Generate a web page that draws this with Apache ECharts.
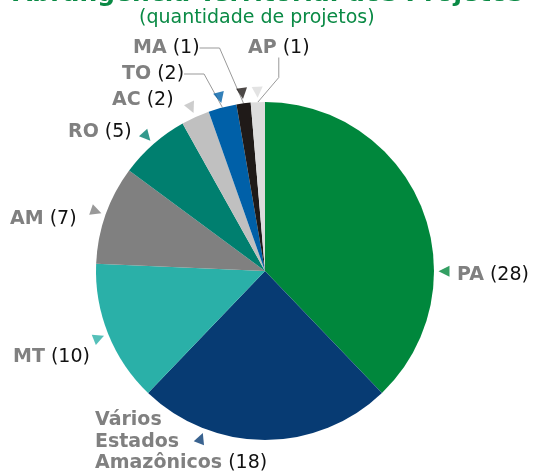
<!DOCTYPE html>
<html>
<head>
<meta charset="utf-8">
<script src="https://cdn.jsdelivr.net/npm/echarts@6/dist/echarts.min.js"></script>
<style>
  html, body { margin: 0; padding: 0; background: #fff; }
  #chart { width: 536px; height: 473px; }
</style>
</head>
<body>
<div id="chart"></div>
<script>
'use strict';

// data
var categories = ['PA', 'Vários Estados Amazônicos', 'MT', 'AM', 'RO', 'AC', 'TO', 'MA', 'AP'];
var projectCounts = [28, 18, 10, 7, 5, 2, 2, 1, 1];

// styles / layout (not data)
var sliceColors = ['#00873C', '#073B73', '#2AB0A8', '#808080', '#007F6F', '#C0C0C0', '#0060A8', '#1F1A18', '#DCDCDC'];
var labelSpots = [[457, 275], [95, 442], [13, 357], [10, 219], [68, 132], [112, 100], [122, 74], [133, 48], [248, 48]];
var arrowShift = [22, 21, 0, 0, 0, 0, 0, 0, 0]; // degrees, moved labels
var withLine = [false, false, false, false, false, false, true, true, true];

var pieCenter = [265, 271];
var pieRadius = 169;
var FONT = '"DejaVu Sans", Verdana, sans-serif';

var total = projectCounts.reduce(function(a, b) { return a + b; }, 0);

var pieData = categories.map(function(name, i) {
	return {
		name: name,
		value: projectCounts[i],
		itemStyle: { color: sliceColors[i] },
		labelLine: { show: withLine[i] }
	};
});

// arrow markers at the middle of each slice, pointing to the centre
var arrowData = [];
var acc = 0;
projectCounts.forEach(function(v, i) {
	var mid = acc + v / 2 + arrowShift[i] / 360 * total;
	acc += v;
	var deg = mid / total * 360;
	arrowData.push({
		value: [pieRadius + 10, mid],
		symbolRotate: 180 - deg,
		itemStyle: { color: sliceColors[i] }
	});
});

var option = {
	animation: false,
	title: [{
		text: 'Abrangência Territorial dos Projetos',
		left: 'center',
		top: -23,
		textStyle: { fontFamily: FONT, fontSize: 25, fontWeight: 'bold', color: '#0A8A45' }
	}, {
		text: '(quantidade de projetos)',
		left: 134,
		top: 4,
		textStyle: { fontFamily: FONT, fontSize: 19, fontWeight: 'normal', color: '#0A8A45' }
	}],
	polar: { center: pieCenter, radius: 200 },
	radiusAxis: { min: 0, max: 200, show: false },
	angleAxis: { type: 'value', min: 0, max: total, startAngle: 90, clockwise: true, show: false },
	series: [{
		type: 'pie',
		center: pieCenter,
		radius: pieRadius,
		startAngle: 90,
		clockwise: true,
		data: pieData,
		itemStyle: { borderWidth: 0 },
		label: {
			show: true,
			position: 'outside',
			overflow: 'none',
			formatter: function(p) {
				var words = p.name.split(' ');
				var names = words.map(function(w) { return '{n|' + w + '}'; }).join('\n');
				return names + '{v| (' + p.value + ')}';
			},
			rich: {
				n: { fontFamily: FONT, fontSize: 19, fontWeight: 'bold', color: '#808080', lineHeight: 21.5 },
				v: { fontFamily: FONT, fontSize: 19, color: '#111', lineHeight: 21.5 }
			}
		},
		labelLine: {
			length: 14,
			length2: 20,
			lineStyle: { color: '#999', width: 1 }
		},
		labelLayout: function(params) {
			var s = labelSpots[params.dataIndex];
			return { x: s[0], y: s[1], align: 'left', verticalAlign: 'middle' };
		}
	}, {
		type: 'scatter',
		coordinateSystem: 'polar',
		symbol: 'triangle',
		symbolSize: 11,
		silent: true,
		z: 5,
		data: arrowData
	}]
};

var myChart = echarts.init(document.getElementById('chart'));
myChart.setOption(option);
</script>
</body>
</html>
